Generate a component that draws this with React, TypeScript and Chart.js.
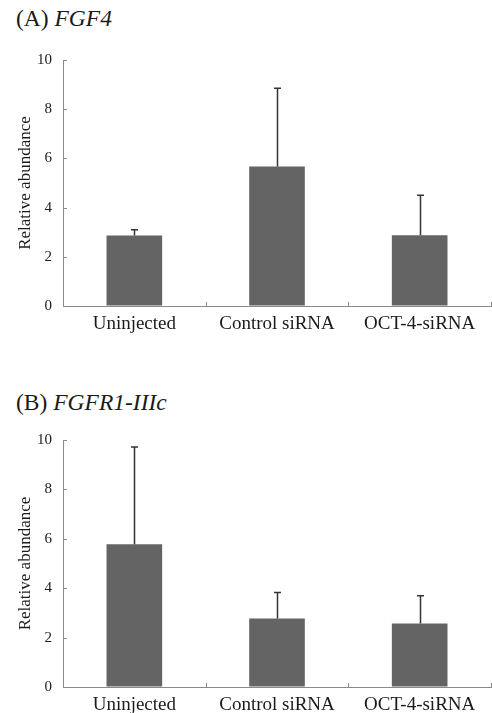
import React, { useEffect, useRef } from "react";
import { Chart, registerables } from "chart.js";

Chart.register(...registerables);

const categories = ["Uninjected", "Control siRNA", "OCT-4-siRNA"];
const fgf4Means = [2.87, 5.67, 2.88];
const fgf4Errors = [0.23, 3.18, 1.62];
const fgfr1Means = [5.78, 2.77, 2.57];
const fgfr1Errors = [3.94, 1.06, 1.12];
const yTicks = [0, 2, 4, 6, 8, 10];
const yAxisTitle = "Relative abundance";

const FONT = "'Liberation Serif', 'Times New Roman', serif";
const AXIS_COLOR = "#8a8a8a";
const TEXT_COLOR = "#1a1a1a";

const decorPlugin = {
  id: "decor",
  afterDatasetsDraw(chart: any) {
    const ctx = chart.ctx;
    const xs = chart.scales.x;
    const ys = chart.scales.y;
    const area = chart.chartArea;
    const errors: number[] = chart.options.plugins.decor.errors;
    const means: number[] = chart.data.datasets[0].data;
    ctx.save();
    // y ticks (inward)
    ctx.strokeStyle = AXIS_COLOR;
    ctx.lineWidth = 1;
    yTicks.forEach((v) => {
      const py = Math.round(ys.getPixelForValue(v)) + 0.5;
      ctx.beginPath();
      ctx.moveTo(area.left, py);
      ctx.lineTo(area.left + 4, py);
      ctx.stroke();
    });
    // x category boundary ticks (upward)
    for (let i = 0; i <= categories.length; i++) {
      const px = Math.round(xs.getPixelForValue(i - 0.5)) + 0.5;
      ctx.beginPath();
      ctx.moveTo(px, area.bottom);
      ctx.lineTo(px, area.bottom - 4);
      ctx.stroke();
    }
    // error bars (upper only)
    const meta = chart.getDatasetMeta(0);
    ctx.strokeStyle = "#333333";
    ctx.lineWidth = 1.5;
    meta.data.forEach((bar: any, i: number) => {
      const x = Math.round(bar.x) + 0.5;
      const y0 = ys.getPixelForValue(means[i]);
      const y1 = ys.getPixelForValue(means[i] + errors[i]);
      ctx.beginPath();
      ctx.moveTo(x, y0);
      ctx.lineTo(x, y1);
      ctx.moveTo(x - 3.5, y1);
      ctx.lineTo(x + 3.5, y1);
      ctx.stroke();
    });
    ctx.restore();
  },
};

function Panel(props: {
  means: number[];
  errors: number[];
  top: number;
  height: number;
  chartHeight: number;
}) {
  const ref = useRef<HTMLCanvasElement>(null);
  useEffect(() => {
    if (!ref.current) return;
    const padTop = 16;
    const xAxisHeight = props.height - padTop - props.chartHeight;
    const chart = new Chart(ref.current, {
      type: "bar",
      data: {
        labels: categories,
        datasets: [
          {
            data: props.means,
            backgroundColor: "#646464",
            borderWidth: 0,
            barPercentage: 0.39,
            categoryPercentage: 1,
          },
        ],
      },
      options: {
        responsive: false,
        animation: false,
        devicePixelRatio: 1,
        layout: { padding: { left: 0, right: 1, top: padTop, bottom: 0 } },
        plugins: {
          legend: { display: false },
          tooltip: { enabled: false },
          decor: { errors: props.errors },
        } as any,
        scales: {
          x: {
            offset: true,
            grid: { display: true, drawOnChartArea: false, drawTicks: false, offset: true },
            border: { display: true, color: AXIS_COLOR, width: 1 },
            ticks: {
              autoSkip: false,
              maxRotation: 0,
              minRotation: 0,
              padding: 7,
              color: TEXT_COLOR,
              font: { family: FONT, size: 19 },
            },
            afterFit: (s: any) => {
              s.height = xAxisHeight;
            },
          },
          y: {
            min: 0,
            max: 10,
            grid: { display: true, drawOnChartArea: false, drawTicks: false },
            border: { display: true, color: AXIS_COLOR, width: 1 },
            ticks: {
              stepSize: 2,
              padding: 11,
              color: TEXT_COLOR,
              font: { family: FONT, size: 15 },
            },
            title: {
              display: true,
              text: yAxisTitle,
              color: TEXT_COLOR,
              font: { family: FONT, size: 17 },
              padding: { top: 15, bottom: 0 },
            },
            afterFit: (s: any) => {
              s.width = 63;
            },
          },
        },
      },
      plugins: [decorPlugin],
    });
    return () => chart.destroy();
  }, []);
  return (
    <canvas
      ref={ref}
      width={492}
      height={props.height}
      style={{ position: "absolute", left: 0, top: props.top, width: 492, height: props.height, display: "block" }}
    />
  );
}

const titleStyle: React.CSSProperties = {
  position: "absolute",
  left: 16,
  fontFamily: FONT,
  fontSize: 23.5,
  lineHeight: "26px",
  color: TEXT_COLOR,
  whiteSpace: "nowrap",
};

export default function App() {
  return (
    <div style={{ position: "absolute", left: 0, top: 0, width: 492, height: 713, background: "#fff", overflow: "hidden" }}>
      <div style={{ ...titleStyle, top: 5 }}>
        (A) <i>FGF4</i>
      </div>
      <Panel means={fgf4Means} errors={fgf4Errors} top={40} height={305} chartHeight={250} />
      <div style={{ ...titleStyle, top: 389 }}>
        (B) <i>FGFR1-IIIc</i>
      </div>
      <Panel means={fgfr1Means} errors={fgfr1Errors} top={420} height={293} chartHeight={251} />
    </div>
  );
}
